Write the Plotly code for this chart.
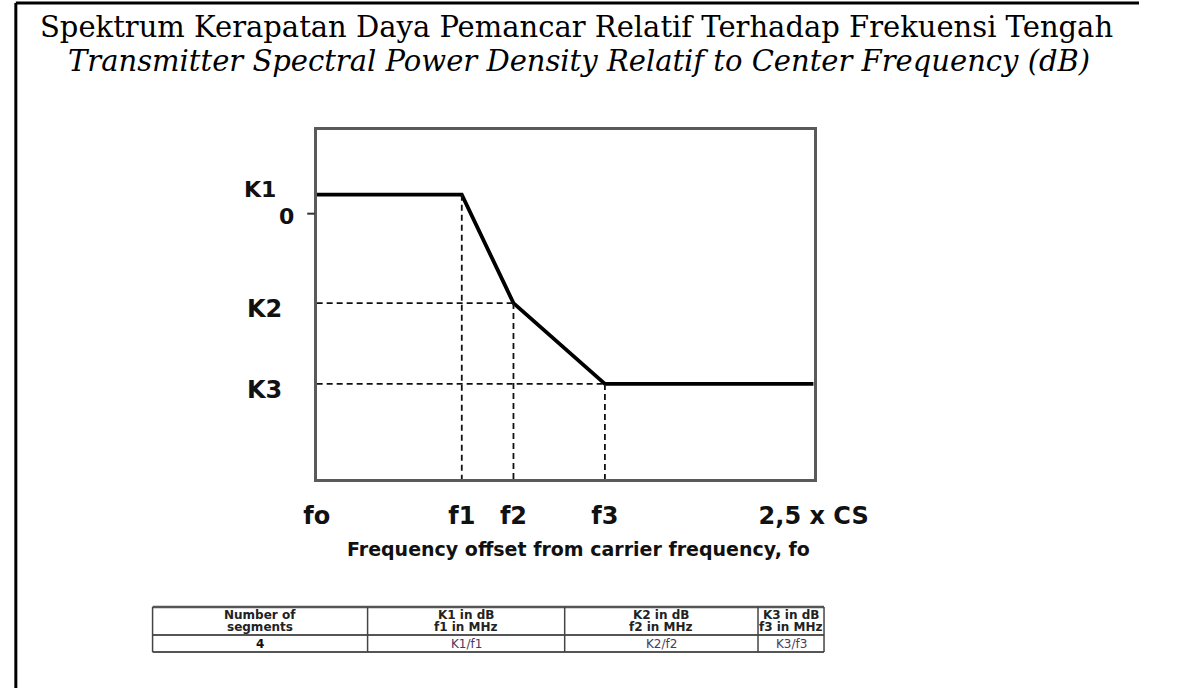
import plotly.graph_objects as go

# ---------------- data ----------------
x_ticks = [0, 0.73, 0.99, 1.45, 2.5]
x_tick_text = ["fo", "f1", "f2", "f3", "2,5 x CS"]
K1, K2, K3 = 2.0, -9.4, -17.9
mask_x = [0, 0.73, 0.99, 1.45, 2.5]
mask_y = [K1, K1, K2, K3, K3]
y_labels = ["K1", "0", "K2", "K3"]
y_label_vals = [K1, 0, K2, K3]

table_header = [["Number of", "segments"], ["K1 in dB", "f1 in MHz"],
                ["K2 in dB", "f2 in MHz"], ["K3 in dB", "f3 in MHz"]]
table_row = ["4", "K1/f1", "K2/f2", "K3/f3"]

title1 = "Spektrum Kerapatan Daya Pemancar Relatif Terhadap Frekuensi Tengah"
title2 = "Transmitter Spectral Power Density Relatif to Center Frequency (dB)"
x_title = "Frequency offset from carrier frequency, fo"

# ---------------- layout constants (pixels) ----------------
W, H = 1194, 688
box_l, box_r, box_t, box_b = 322, 849, 130, 479
col_edges = [148, 376, 585, 790, 860]
row_edges = [607, 635, 652]

def px(x):
    return x / W

def py(y):
    return (H - y) / H

fig = go.Figure()

# main mask line
fig.add_trace(go.Scatter(x=mask_x, y=mask_y, mode="lines",
                         line=dict(color="black", width=3.8),
                         hoverinfo="skip", showlegend=False))

# dashed guide lines
ymin, ymax = -27.9, 8.8
gx = [0, x_ticks[2], None, 0, x_ticks[3], None,
      x_ticks[1], x_ticks[1], None, x_ticks[2], x_ticks[2], None,
      x_ticks[3], x_ticks[3]]
gy = [K2, K2, None, K3, K3, None,
      K1, ymin, None, K2, ymin, None,
      K3, ymin]
fig.add_trace(go.Scatter(x=gx, y=gy, mode="lines",
                         line=dict(color="#111", width=1.8, dash="6px,4px"),
                         hoverinfo="skip", showlegend=False))

lab_font = dict(family="DejaVu Sans", size=24, color="#111", weight="bold")

fig.update_layout(
    width=W, height=H, autosize=False,
    margin=dict(l=0, r=0, t=0, b=0, pad=0),
    paper_bgcolor="white", plot_bgcolor="white",
    showlegend=False,
    xaxis=dict(domain=[px(box_l), px(box_r)], range=[0, 2.5],
               showgrid=False, zeroline=False, showline=True, mirror=True,
               linecolor="#5a5a5a", linewidth=2.5,
               tickvals=x_ticks, ticktext=x_tick_text,
               ticks="outside", ticklen=13, tickcolor="rgba(0,0,0,0)",
               tickfont=lab_font, fixedrange=True),
    yaxis=dict(domain=[py(box_b), py(box_t)], range=[ymin, ymax],
               showgrid=False, zeroline=False, showline=True, mirror=True,
               linecolor="#5a5a5a", linewidth=2.5,
               showticklabels=False, ticks="", fixedrange=True),
)

# tick mark at 0 dB
fig.add_shape(type="line", xref="x domain", yref="y",
              x0=-10 / (box_r - box_l), x1=-2 / (box_r - box_l), y0=0, y1=0,
              line=dict(color="#333", width=2))

# y labels
y_shifts = [5, -3, -6, -6]
y_xshift = [-40, -22, -34, -34]
for lab, val, ys, xs in zip(y_labels, y_label_vals, y_shifts, y_xshift):
    fig.add_annotation(text=lab, x=0, xref="x domain", y=val, yref="y",
                       xanchor="right", yanchor="middle", xshift=xs, yshift=ys,
                       showarrow=False, borderpad=0,
                       font=dict(family="DejaVu Sans", size=22 if lab in ("K1", "0") else 24,
                                 color="#111", weight="bold"))

# x axis title
fig.add_annotation(text=x_title, x=px(600), y=py(549), xref="paper", yref="paper",
                   xanchor="center", yanchor="middle", showarrow=False,
                   font=dict(family="DejaVu Sans", size=19, color="#111", weight="bold"))

# titles
fig.add_annotation(text=title1, x=px(597), y=py(27), xref="paper", yref="paper",
                   xanchor="center", yanchor="middle", showarrow=False, borderpad=0,
                   font=dict(family="DejaVu Serif", size=29, color="black"))
fig.add_annotation(text="<i>" + title2 + "</i>", x=px(600), y=py(61),
                   xref="paper", yref="paper", borderpad=0,
                   xanchor="center", yanchor="middle", showarrow=False,
                   font=dict(family="DejaVu Serif", size=29, color="black"))

# outer frame (left and top)
fig.add_shape(type="line", xref="paper", yref="paper", x0=px(3), x1=px(3), y0=0, y1=py(3),
              line=dict(color="black", width=3))
fig.add_shape(type="line", xref="paper", yref="paper", x0=px(3), x1=1, y0=py(3), y1=py(3),
              line=dict(color="black", width=3))

# table grid
for j, ry in enumerate(row_edges):
    fig.add_shape(type="line", xref="paper", yref="paper",
                  x0=px(col_edges[0]), x1=px(col_edges[-1]), y0=py(ry), y1=py(ry),
                  line=dict(color="#555", width=2.5 if j == 0 else 2))
for cx in col_edges:
    fig.add_shape(type="line", xref="paper", yref="paper",
                  x0=px(cx), x1=px(cx), y0=py(row_edges[0]), y1=py(row_edges[-1]),
                  line=dict(color="#444", width=1.5))

# table texts
for i, (hdr, val) in enumerate(zip(table_header, table_row)):
    cxm = (col_edges[i] + col_edges[i + 1]) / 2
    fig.add_annotation(text=hdr[0], x=px(cxm), y=py(615), xref="paper", yref="paper",
                       xanchor="center", yanchor="middle", showarrow=False, borderpad=0,
                       font=dict(family="DejaVu Sans", size=12, color="#222", weight="bold"))
    fig.add_annotation(text=hdr[1], x=px(cxm), y=py(627), xref="paper", yref="paper",
                       xanchor="center", yanchor="middle", showarrow=False, borderpad=0,
                       font=dict(family="DejaVu Sans", size=12, color="#222", weight="bold"))
    fig.add_annotation(text=val, x=px(cxm), y=py(643.5), xref="paper", yref="paper",
                       xanchor="center", yanchor="middle", showarrow=False, borderpad=0,
                       font=dict(family="DejaVu Sans", size=12,
                                 color="#111" if i == 0 else "#4b3a5e",
                                 weight="bold" if i == 0 else "normal"))

fig.write_html("out.html", config={"displayModeBar": False},
               post_script="document.body.style.margin='0';")
